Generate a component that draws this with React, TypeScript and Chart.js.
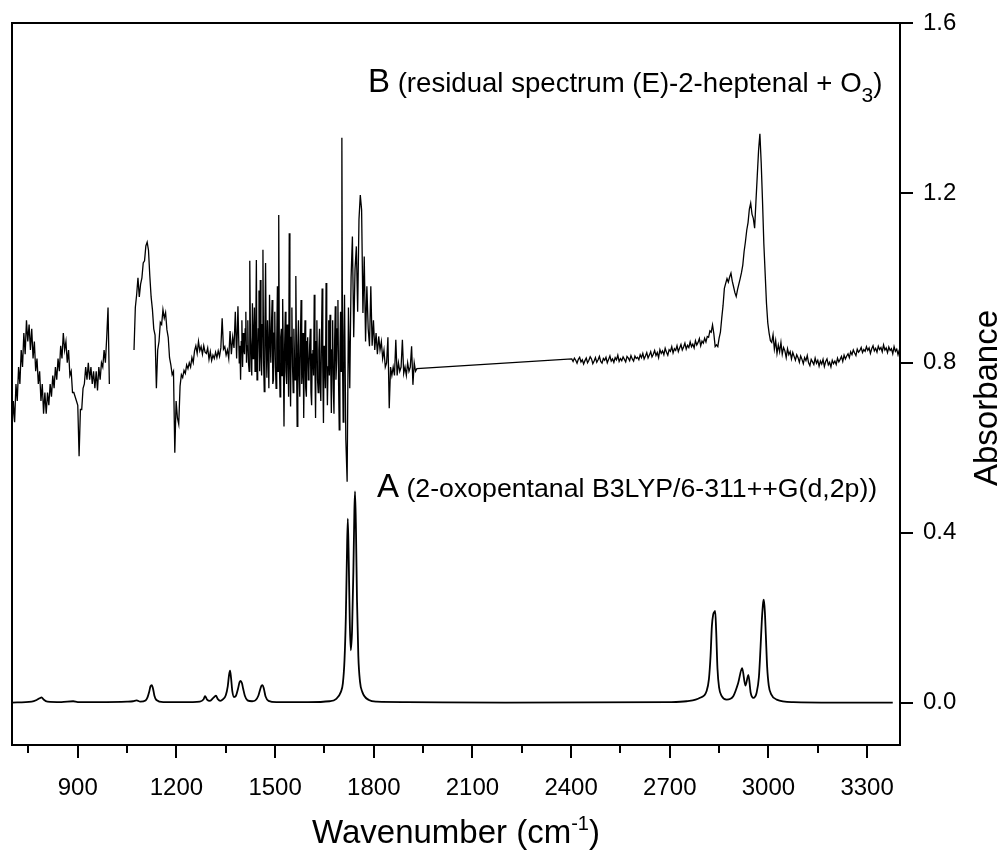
import React, { useEffect, useRef } from 'react';
import { Chart, registerables } from 'chart.js';

Chart.register(...registerables);

const FONT = "'Liberation Sans', Arial, Helvetica, sans-serif";

// Axis ticks
const X_TICKS = [900, 1200, 1500, 1800, 2100, 2400, 2700, 3000, 3300];
const X_MINOR = [750, 1050, 1350, 1650, 1950, 2250, 2550, 2850, 3150];
const Y_TICKS = [0, 0.4, 0.8, 1.2, 1.6];

// Spectrum A: calculated 2-oxopentanal
const A_WN = [700, 760, 775, 784, 790, 796, 808, 850, 886, 900, 960, 1050, 1068, 1079, 1090, 1106, 1112, 1117, 1121, 1125, 1129, 1133, 1139, 1160, 1250, 1271, 1282, 1287, 1293, 1302, 1312, 1320, 1326, 1333, 1342, 1350, 1356, 1360, 1363, 1366, 1370, 1375, 1381, 1387, 1392, 1395, 1399, 1403, 1408, 1416, 1430, 1440, 1449, 1455, 1459, 1462, 1466, 1471, 1480, 1504, 1600, 1666, 1685, 1700, 1706, 1711, 1715, 1718, 1721, 1724, 1727, 1730, 1734, 1738, 1741, 1743, 1746, 1749, 1753, 1758, 1765, 1785, 1809, 1900, 2200, 2700, 2751, 2792, 2812, 2819, 2824, 2828, 2832, 2835, 2838, 2841, 2845, 2850, 2858, 2873, 2893, 2908, 2920, 2930, 2939, 2946, 2954, 2964, 2971, 2976, 2980, 2984, 2986, 2989, 2992, 2996, 3001, 3008, 3025, 3076, 3200, 3378];
const A_ABS = [0, 0.002, 0.006, 0.010, 0.012, 0.007, 0.002, 0.001, 0.003, 0.001, 0.001, 0.002, 0.003, 0.005, 0.002, 0.005, 0.012, 0.025, 0.038, 0.041, 0.032, 0.016, 0.006, 0.001, 0.001, 0.002, 0.007, 0.015, 0.007, 0.004, 0.011, 0.016, 0.008, 0.004, 0.008, 0.017, 0.038, 0.065, 0.075, 0.058, 0.026, 0.013, 0.016, 0.032, 0.048, 0.051, 0.046, 0.032, 0.016, 0.005, 0.003, 0.005, 0.016, 0.032, 0.040, 0.041, 0.032, 0.014, 0.004, 0.001, 0.001, 0.003, 0.008, 0.025, 0.045, 0.10, 0.20, 0.33, 0.433, 0.33, 0.19, 0.123, 0.17, 0.31, 0.45, 0.497, 0.40, 0.24, 0.11, 0.05, 0.025, 0.006, 0.002, 0.001, 0, 0.001, 0.003, 0.011, 0.027, 0.055, 0.11, 0.18, 0.207, 0.213, 0.216, 0.17, 0.08, 0.035, 0.015, 0.007, 0.015, 0.046, 0.081, 0.040, 0.065, 0.023, 0.011, 0.023, 0.060, 0.13, 0.195, 0.236, 0.242, 0.215, 0.16, 0.085, 0.04, 0.02, 0.007, 0.001, 0, 0];

// Spectrum B: residual spectrum, read in pieces on regular wavenumber grids
const B1_START = 700;
const B1_STEP = 4;
const B1_ABS = [
  0.64, 0.71, 0.66, 0.75, 0.71, 0.79, 0.75, 0.83, 0.79, 0.87,
  0.82, 0.90, 0.85, 0.89, 0.83, 0.88, 0.81, 0.85, 0.78, 0.81,
  0.75, 0.78, 0.71, 0.75, 0.68, 0.73, 0.68, 0.73, 0.70, 0.75,
  0.72, 0.77, 0.74, 0.79, 0.76, 0.81, 0.78, 0.84, 0.81, 0.87,
  0.83, 0.85, 0.80, 0.83, 0.77, 0.78, 0.73, 0.73, 0.72, 0.71,
  0.70, 0.58, 0.69, 0.69, 0.74, 0.75, 0.79, 0.76, 0.80, 0.76,
  0.79, 0.75, 0.78, 0.74, 0.78, 0.735, 0.79, 0.76, 0.80, 0.79,
  0.83, 0.80, 0.86, 0.93, 0.75,
];

const B2A_START = 1071;
const B2A_STEP = 4;
const B2A_ABS = [
  0.83, 0.93, 0.96, 1.00, 0.955, 0.985, 1.00, 1.035, 1.04, 1.075,
  1.084, 1.065, 1.005, 0.955, 0.925, 0.88, 0.865, 0.74, 0.83, 0.85,
  0.895, 0.89, 0.925, 0.905, 0.918, 0.878, 0.86, 0.812, 0.795, 0.772,
  0.78, 0.588, 0.71, 0.67, 0.655, 0.745, 0.772, 0.765, 0.782, 0.775,
  0.795, 0.786, 0.80, 0.79, 0.812, 0.80, 0.828, 0.84, 0.822, 0.85,
  0.828, 0.838, 0.82, 0.84, 0.825, 0.822, 0.835, 0.808, 0.826, 0.805,
  0.818, 0.81, 0.825, 0.812, 0.828, 0.815, 0.835, 0.905, 0.832, 0.838,
  0.818, 0.83, 0.81, 0.875, 0.82, 0.86, 0.835, 0.92, 0.81, 0.933,
];

const B2B_START = 1391;
const B2B_STEP = 2;
const B2B_ABS = [
  0.80, 0.84, 0.76, 0.85, 0.90, 0.79, 0.87, 0.83, 0.82, 0.88,
  0.92, 0.80, 0.84, 0.90, 0.80, 0.78, 1.04, 0.86, 0.82, 0.77,
  0.94, 0.81, 0.86, 0.93, 0.78, 0.85, 1.042, 0.76, 0.80, 0.88,
  0.97, 0.78, 0.995, 0.82, 0.77, 0.89, 1.066, 0.80, 0.732, 0.88,
  1.035, 0.84, 0.765, 0.90, 0.83, 0.74, 0.96, 0.86, 0.80, 0.89,
  0.948, 0.75, 0.76, 0.87, 0.92, 0.79, 0.74, 0.85, 0.98, 0.78,
  1.148, 0.80, 0.72, 0.86, 0.88, 0.77, 0.95, 0.82, 0.65, 0.84,
  0.92, 0.78, 0.75, 0.89, 0.83, 0.72, 1.105, 0.80, 0.697, 0.86,
  0.93, 0.79, 0.73, 0.88, 0.81, 0.76, 1.004, 0.82, 0.65, 0.84,
  0.90, 0.77, 0.72, 0.86, 0.948, 0.75, 0.78, 0.87, 0.67, 0.82,
  0.90, 0.74, 0.72, 0.85, 0.86, 0.76, 0.78, 0.84, 0.88, 0.73,
  0.70, 0.82, 0.83, 0.77, 0.96, 0.80, 0.67, 0.85, 0.90, 0.76,
  0.73, 0.83, 0.88, 0.75, 0.71, 0.86, 0.975, 0.78, 0.658, 0.84,
  0.80, 0.74, 0.988, 0.81, 0.70, 0.79, 0.90, 0.77, 0.913, 0.80,
  0.682, 0.83, 0.90, 0.74, 0.68, 0.85, 0.933, 0.76, 0.80, 0.88,
  0.948, 0.75, 0.642, 0.82, 0.92, 0.78, 1.33, 0.80, 0.66, 0.86,
  0.96,
];

const B2C_START = 1715;
const B2C_STEP = 4;
const B2C_ABS = [
  0.62, 0.52, 0.93, 0.74, 1.00, 1.097, 0.86, 1.02, 1.074,
  0.92, 1.137, 1.195, 1.16, 0.917, 1.05, 0.85, 0.98, 0.88, 0.839,
  0.98, 0.84, 0.90, 0.83, 0.87, 0.82, 0.862, 0.83, 0.85, 0.81,
  0.83, 0.79, 0.80, 0.86, 0.693, 0.79, 0.77, 0.79, 0.77, 0.854,
  0.77, 0.80, 0.78, 0.79, 0.854, 0.775, 0.79, 0.77, 0.80, 0.78,
  0.79, 0.839, 0.748, 0.80, 0.78, 0.786,
];

const B3_START = 2402;
const B3_STEP = 4;
const B3_ABS = [
  0.809, 0.803, 0.811, 0.806, 0.799, 0.808, 0.813, 0.802, 0.807, 0.797,
  0.805, 0.811, 0.800, 0.806, 0.814, 0.809, 0.798, 0.804, 0.812, 0.801,
  0.807, 0.815, 0.803, 0.799, 0.810, 0.806, 0.813, 0.800, 0.808, 0.816,
  0.804, 0.809, 0.801, 0.812, 0.807, 0.818, 0.803, 0.810, 0.805, 0.814,
  0.808, 0.802, 0.815, 0.811, 0.805, 0.817, 0.809, 0.804, 0.816, 0.810,
  0.813, 0.807, 0.819, 0.812, 0.822, 0.809, 0.816, 0.824, 0.811, 0.818,
  0.826, 0.814, 0.820, 0.829, 0.817, 0.824, 0.812, 0.831, 0.822, 0.828,
  0.819, 0.834, 0.825, 0.818, 0.831, 0.827, 0.838, 0.823, 0.833, 0.829,
  0.840, 0.826, 0.835, 0.843, 0.830, 0.837, 0.846, 0.832, 0.841, 0.836,
  0.849, 0.838, 0.844, 0.835, 0.852, 0.842, 0.848, 0.857, 0.840, 0.851,
  0.846, 0.858, 0.849, 0.862, 0.860, 0.875, 0.872, 0.889, 0.868, 0.838,
  0.842, 0.838, 0.858, 0.872, 0.905, 0.935, 0.975, 0.987, 0.998, 0.990,
  1.002, 1.011, 0.992, 0.979, 0.965, 0.956, 0.972, 0.985, 0.998, 1.012,
  1.030, 1.062, 1.085, 1.112, 1.130, 1.162, 1.176, 1.150, 1.140, 1.117,
  1.180, 1.240, 1.300, 1.339, 1.270, 1.180, 1.080, 1.010, 0.940, 0.894,
  0.870, 0.852, 0.848, 0.866, 0.832, 0.852, 0.822, 0.842, 0.826, 0.848,
  0.820, 0.836, 0.828, 0.812, 0.833, 0.819, 0.826, 0.809, 0.824, 0.815,
  0.806, 0.819, 0.812, 0.801, 0.816, 0.808, 0.798, 0.812, 0.805, 0.817,
  0.800, 0.793, 0.808, 0.802, 0.796, 0.811, 0.799, 0.806, 0.792, 0.804,
  0.797, 0.808, 0.791, 0.803, 0.809, 0.795, 0.801, 0.790, 0.806, 0.798,
  0.804, 0.796, 0.811, 0.802, 0.808, 0.815, 0.803, 0.818, 0.809, 0.816,
  0.821, 0.812, 0.826, 0.819, 0.830, 0.823, 0.817, 0.832, 0.825, 0.829,
  0.836, 0.824, 0.831, 0.827, 0.838, 0.829, 0.835, 0.822, 0.833, 0.840,
  0.828, 0.834, 0.825, 0.839, 0.831, 0.836, 0.826, 0.842, 0.830, 0.835,
  0.824, 0.837, 0.829, 0.833, 0.821, 0.838, 0.827, 0.832, 0.819, 0.831,
];

const LABEL_B = 'B';
const LABEL_B_TEXT = ' (residual spectrum (E)-2-heptenal + O';
const LABEL_A = 'A';
const LABEL_A_TEXT = ' (2-oxopentanal B3LYP/6-311++G(d,2p))';
const X_TITLE = 'Wavenumber (cm';
const Y_TITLE = 'Absorbance';

type Run = { text: string; size: number; dy?: number };

function sampled(start: number, step: number, vals: number[]) {
  return vals.map((v, i) => ({ x: start + i * step, y: v }));
}

function runsWidth(ctx: CanvasRenderingContext2D, runs: Run[]) {
  let w = 0;
  for (const r of runs) {
    ctx.font = `${r.size}px ${FONT}`;
    w += ctx.measureText(r.text).width;
  }
  return w;
}

function drawRuns(ctx: CanvasRenderingContext2D, x: number, y: number, runs: Run[]) {
  let cx = x;
  for (const r of runs) {
    ctx.font = `${r.size}px ${FONT}`;
    ctx.fillText(r.text, cx, y + (r.dy || 0));
    cx += ctx.measureText(r.text).width;
  }
}

const framePlugin = {
  id: 'frameAndText',
  afterDraw(chart: any) {
    const { ctx, chartArea, scales } = chart;
    const { left, right, top, bottom } = chartArea;
    ctx.save();
    ctx.strokeStyle = '#000';
    ctx.fillStyle = '#000';
    ctx.lineWidth = 2;
    ctx.strokeRect(left, top, right - left, bottom - top);
    ctx.beginPath();
    for (const v of X_TICKS) {
      const p = Math.round(scales.x.getPixelForValue(v));
      ctx.moveTo(p, bottom);
      ctx.lineTo(p, bottom + 13);
    }
    for (const v of X_MINOR) {
      const p = Math.round(scales.x.getPixelForValue(v));
      ctx.moveTo(p, bottom);
      ctx.lineTo(p, bottom + 8);
    }
    for (const v of Y_TICKS) {
      const p = Math.round(scales.y.getPixelForValue(v));
      ctx.moveTo(right, p);
      ctx.lineTo(right + 13, p);
    }
    ctx.stroke();

    ctx.textAlign = 'left';
    ctx.textBaseline = 'alphabetic';
    drawRuns(ctx, 368, 92, [
      { text: LABEL_B, size: 33 },
      { text: LABEL_B_TEXT, size: 27.6 },
      { text: '3', size: 21, dy: 10 },
      { text: ')', size: 27.6 },
    ]);
    drawRuns(ctx, 377, 497, [
      { text: LABEL_A, size: 33 },
      { text: LABEL_A_TEXT, size: 26.7 },
    ]);

    const xt: Run[] = [
      { text: X_TITLE, size: 33 },
      { text: '-1', size: 20, dy: -13 },
      { text: ')', size: 33 },
    ];
    const w = runsWidth(ctx, xt);
    drawRuns(ctx, (left + right) / 2 - w / 2, 843, xt);

    ctx.translate(997, 398);
    ctx.rotate(-Math.PI / 2);
    ctx.textAlign = 'center';
    ctx.font = `33px ${FONT}`;
    ctx.fillText(Y_TITLE, 0, 0);
    ctx.restore();
  },
};

export default function App() {
  const ref = useRef<HTMLCanvasElement | null>(null);

  useEffect(() => {
    if (!ref.current) return;
    const line = (data: any[], width: number, smooth: boolean) => ({
      data,
      borderColor: '#000',
      borderWidth: width,
      pointRadius: 0,
      tension: 0,
      cubicInterpolationMode: smooth ? 'monotone' : 'default',
      fill: false,
      spanGaps: false,
    });
    const bMain = [
      ...sampled(B2A_START, B2A_STEP, B2A_ABS),
      ...sampled(B2B_START, B2B_STEP, B2B_ABS),
      ...sampled(B2C_START, B2C_STEP, B2C_ABS),
      ...sampled(B3_START, B3_STEP, B3_ABS),
    ];
    const chart = new Chart(ref.current, {
      type: 'line',
      data: {
        datasets: [
          line(A_WN.map((x, i) => ({ x, y: A_ABS[i] })), 1.8, true),
          line(sampled(B1_START, B1_STEP, B1_ABS), 1.3, false),
          line(bMain, 1.3, false),
        ],
      },
      options: {
        animation: false,
        responsive: false,
        devicePixelRatio: 1,
        layout: { padding: { left: 12, top: 23, right: 0, bottom: 0 } },
        plugins: { legend: { display: false }, tooltip: { enabled: false } },
        scales: {
          x: {
            type: 'linear',
            position: 'bottom',
            min: 700,
            max: 3400,
            grid: { display: false },
            border: { display: false },
            afterBuildTicks: (s: any) => {
              s.ticks = X_TICKS.map((v) => ({ value: v }));
            },
            afterFit: (s: any) => {
              s.height = 111;
            },
            ticks: {
              color: '#000',
              padding: 21,
              maxRotation: 0,
              autoSkip: false,
              font: { family: FONT, size: 24 },
              callback: (v: any) => String(v),
            },
          },
          y: {
            type: 'linear',
            position: 'right',
            min: -0.1,
            max: 1.6,
            grid: { display: false },
            border: { display: false },
            afterBuildTicks: (s: any) => {
              s.ticks = Y_TICKS.map((v) => ({ value: v }));
            },
            afterFit: (s: any) => {
              s.width = 103;
            },
            ticks: {
              color: '#000',
              padding: 15,
              font: { family: FONT, size: 24, lineHeight: 0.6 },
              callback: (v: any) => Number(v).toFixed(1),
            },
          },
        },
      },
      plugins: [framePlugin],
    } as any);
    return () => chart.destroy();
  }, []);

  return (
    <div style={{ position: 'absolute', left: 0, top: 0, width: 1003, height: 856, background: '#fff' }}>
      <canvas ref={ref} width={1003} height={856} style={{ display: 'block' }} />
    </div>
  );
}
